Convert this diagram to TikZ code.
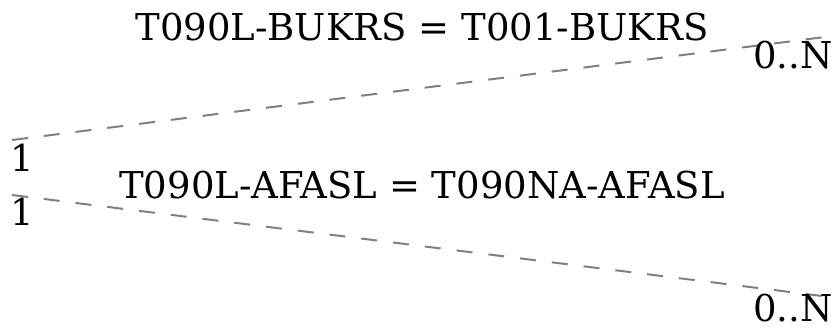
\documentclass[tikz,border=0pt]{standalone}
\usepackage{fontspec}
\setmainfont{DejaVu Serif}
\begin{document}
\begin{tikzpicture}[x=1pt,y=-1pt,
  rel/.style={draw=gray,dash pattern=on 16pt off 16pt,line width=2pt},
  lbl/.style={inner sep=0pt,font=\fontsize{37}{42}\selectfont}]
\useasboundingbox (0,0) rectangle (835,331);
\coordinate (bukrsA) at (12,140);
\coordinate (bukrsB) at (825,37);
\coordinate (afaslA) at (12,195);
\coordinate (afaslB) at (822,296);
\draw[rel] (bukrsA) -- (bukrsB);
\draw[rel] (afaslA) -- (afaslB);
\node[lbl] (bukrs) at (422,27) {T090L-BUKRS = T001-BUKRS};
\node[lbl] (afasl) at (422,185) {T090L-AFASL = T090NA-AFASL};
\node[lbl] (oneA) at (22,158) {1};
\node[lbl] (oneB) at (22,212) {1};
\node[lbl] (manyA) at (793,55) {0..N};
\node[lbl] (manyB) at (793,308) {0..N};
\end{tikzpicture}
\end{document}
